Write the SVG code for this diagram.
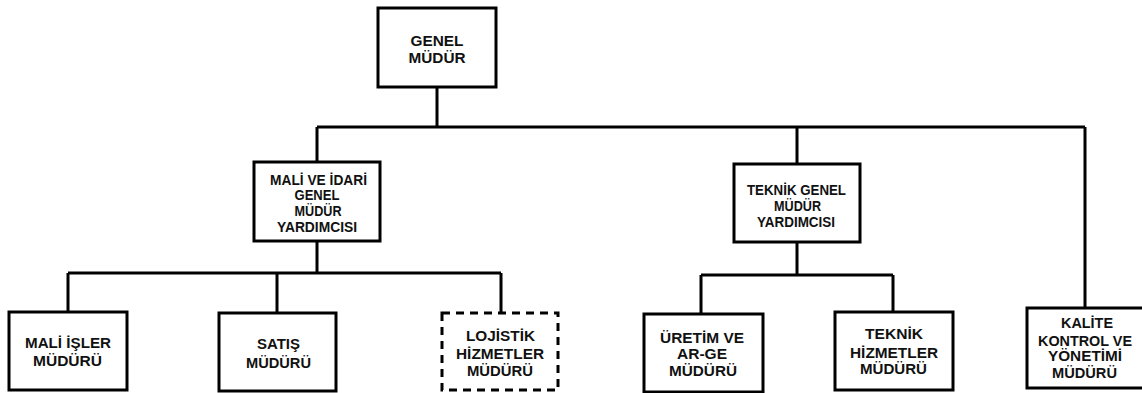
<svg xmlns="http://www.w3.org/2000/svg" width="1142" height="393" viewBox="0 0 1142 393">
<style>
.box{fill:#fff;stroke:#000;stroke-width:3}
.dash{fill:#fff;stroke:#000;stroke-width:3;stroke-dasharray:8 6}
.ln{fill:none;stroke:#000;stroke-width:3}
text{font-family:"Liberation Sans",Arial,sans-serif;font-weight:bold;font-size:14.5px;fill:#111;text-anchor:middle}
</style>
<rect width="1142" height="393" fill="#fff"/>
<g id="connectors">
<path class="ln" d="M437 87V127M317 127H1085M317 127V162M797 127V164M1085 127V308"/>
<path class="ln" d="M317 241V273M68 273H501M68 273V312M277 273V313M501 273V313"/>
<path class="ln" d="M797 242V275M701 275H893M701 275V314M893 275V312"/>
</g>
<g id="genel-mudur">
<rect class="box" x="378" y="8" width="118" height="79"/>
<text x="437" y="45.5" textLength="53" lengthAdjust="spacingAndGlyphs">GENEL</text>
<text x="437" y="62.5" textLength="57" lengthAdjust="spacingAndGlyphs">MÜDÜR</text>
</g>
<g id="mali-idari">
<rect class="box" x="254" y="162" width="126" height="79"/>
<text x="318.5" y="184.5" textLength="97" lengthAdjust="spacingAndGlyphs">MALİ VE İDARİ</text>
<text x="317" y="199.5" textLength="45" lengthAdjust="spacingAndGlyphs">GENEL</text>
<text x="318" y="215.5" textLength="47" lengthAdjust="spacingAndGlyphs">MÜDÜR</text>
<text x="317" y="231.5" textLength="80" lengthAdjust="spacingAndGlyphs">YARDIMCISI</text>
</g>
<g id="teknik-genel">
<rect class="box" x="734" y="164" width="126" height="78"/>
<text x="796.5" y="194.5" textLength="99" lengthAdjust="spacingAndGlyphs">TEKNİK GENEL</text>
<text x="797.5" y="210.5" textLength="47" lengthAdjust="spacingAndGlyphs">MÜDÜR</text>
<text x="796" y="226.5" textLength="78" lengthAdjust="spacingAndGlyphs">YARDIMCISI</text>
</g>
<g id="mali-isler">
<rect class="box" x="9" y="312" width="118" height="78"/>
<text x="68" y="347.5" textLength="86" lengthAdjust="spacingAndGlyphs">MALİ İŞLER</text>
<text x="67.5" y="365.5" textLength="69" lengthAdjust="spacingAndGlyphs">MÜDÜRÜ</text>
</g>
<g id="satis">
<rect class="box" x="219" y="313" width="117" height="78"/>
<text x="278.5" y="348.5" textLength="43" lengthAdjust="spacingAndGlyphs">SATIŞ</text>
<text x="278.5" y="367.5" textLength="65" lengthAdjust="spacingAndGlyphs">MÜDÜRÜ</text>
</g>
<g id="lojistik">
<rect class="dash" x="442" y="313" width="116" height="77"/>
<text x="500.5" y="340.5" textLength="69" lengthAdjust="spacingAndGlyphs">LOJİSTİK</text>
<text x="500" y="358.5" textLength="88" lengthAdjust="spacingAndGlyphs">HİZMETLER</text>
<text x="500" y="375.5" textLength="66" lengthAdjust="spacingAndGlyphs">MÜDÜRÜ</text>
</g>
<g id="uretim">
<rect class="box" x="644" y="314" width="119" height="78"/>
<text x="702" y="342.5" textLength="84" lengthAdjust="spacingAndGlyphs">ÜRETİM VE</text>
<text x="702" y="358.5" textLength="50" lengthAdjust="spacingAndGlyphs">AR-GE</text>
<text x="703" y="375.5" textLength="68" lengthAdjust="spacingAndGlyphs">MÜDÜRÜ</text>
</g>
<g id="teknik-hizmetler">
<rect class="box" x="835" y="312" width="118" height="78"/>
<text x="894" y="338.5" textLength="58" lengthAdjust="spacingAndGlyphs">TEKNİK</text>
<text x="894" y="357.5" textLength="88" lengthAdjust="spacingAndGlyphs">HİZMETLER</text>
<text x="893.5" y="373.5" textLength="67" lengthAdjust="spacingAndGlyphs">MÜDÜRÜ</text>
</g>
<g id="kalite">
<rect class="box" x="1027" y="308" width="130" height="80"/>
<text x="1087" y="327.5" textLength="52" lengthAdjust="spacingAndGlyphs">KALİTE</text>
<text x="1085" y="345.5" textLength="94" lengthAdjust="spacingAndGlyphs">KONTROL VE</text>
<text x="1085" y="360.5" textLength="74" lengthAdjust="spacingAndGlyphs">YÖNETİMİ</text>
<text x="1084.5" y="377.5" textLength="65" lengthAdjust="spacingAndGlyphs">MÜDÜRÜ</text>
</g>
</svg>
